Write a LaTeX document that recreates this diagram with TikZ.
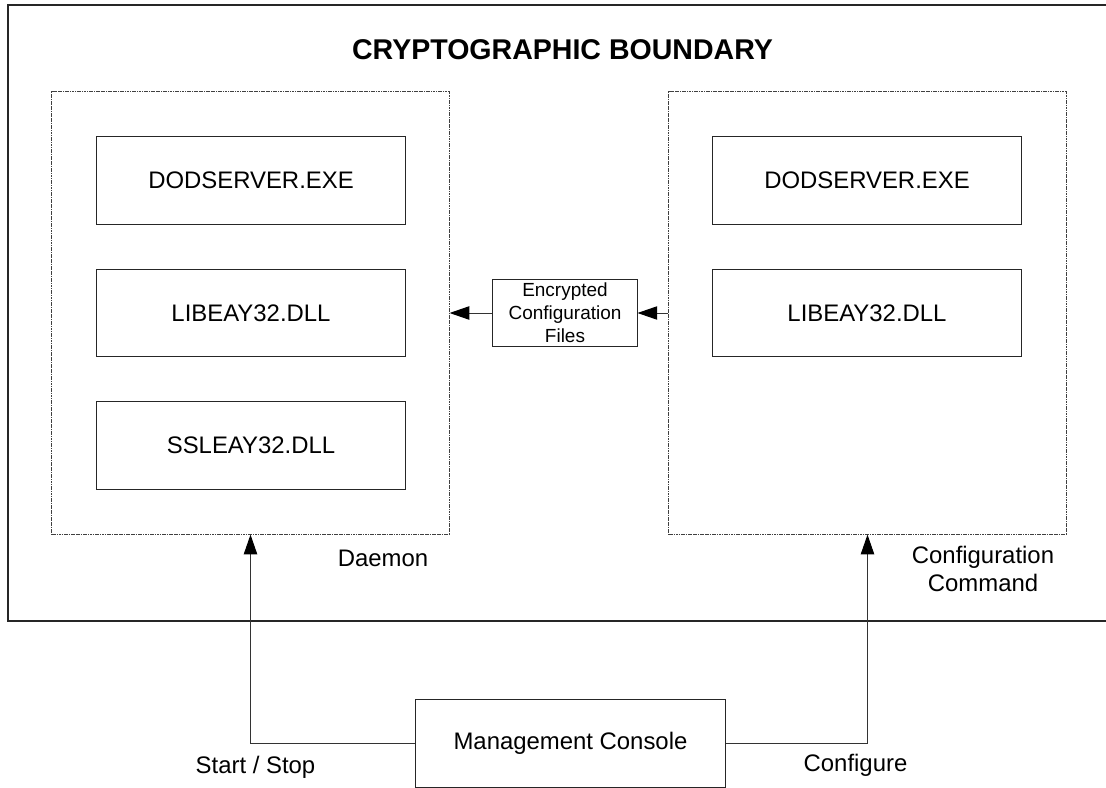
\documentclass[tikz,border=0pt]{standalone}
\usepackage{fontspec}
\setmainfont{Liberation Sans}
\usetikzlibrary{arrows.meta}
\tikzset{
	module/.style={draw=black!85, line width=0.7pt, minimum width=7.7cm, minimum height=2.175cm, inner sep=0pt, font=\fontsize{17}{20}\selectfont},
	zone/.style={draw=black!75, line width=0.75pt, dash pattern=on 1.2pt off 0.5pt, minimum width=9.925cm, minimum height=11.05cm, inner sep=0pt},
	cfgfile/.style={draw=black!85, line width=0.7pt, minimum width=3.6cm, minimum height=1.65cm, inner sep=0pt, align=center, font=\fontsize{13.5}{16.3}\selectfont},
	tag/.style={font=\fontsize{17}{20.5}\selectfont, align=center, inner sep=0pt},
	flow/.style={draw=black!80, line width=0.7pt, -{Triangle[length=14pt,width=9.5pt,color=black]}},
}

\begin{document}
\begin{tikzpicture}[x=0.025cm, y=-0.025cm]
			%%%%% START %%%%%
			\useasboundingbox (0,0) rectangle (1106,788);
			
			% boundary, runs off the right edge
			\draw[line width=0.8pt, black!85] (8,5) rectangle (1120,621);
			\node[font=\fontsize{20.3}{24}\selectfont\bfseries, anchor=base] (title) at (562.5,60) {CRYPTOGRAPHIC BOUNDARY};
			
			\node[zone] (daemon) at (250.5,313) {};
			\node[zone] (cfgcmd) at (867.5,313) {};
			
			\node[module] (dodl) at (251,180.5) {DODSERVER.EXE};
			\node[module] (libl) at (251,313) {LIBEAY32.DLL};
			\node[module] (ssll) at (251,445.5) {SSLEAY32.DLL};
			
			\node[module] (dodr) at (867,180.5) {DODSERVER.EXE};
			\node[module] (libr) at (867,313) {LIBEAY32.DLL};
			
			\node[cfgfile] (crypt) at (565,313) {Encrypted\\Configuration\\Files};
			
			\node[tag, anchor=base] (daemonlbl) at (383,566) {Daemon};
			\node[tag] (cfgcmdlbl) at (983,569) {Configuration\\Command};
			
			\node[module, minimum width=7.725cm, minimum height=2.2cm] (console) at (570.5,743) {Management Console};
			
			\draw[flow] (crypt.west) -- (daemon.east);
			\draw[flow] (cfgcmd.west) -- (crypt.east);
			\draw[flow] (console.west) -| (daemon.south);
			\draw[flow] (console.east) -| (cfgcmd.south);
			
			\node[tag, anchor=base] (startlbl) at (255.5,773) {Start / Stop};
			\node[tag, anchor=base] (cfglbl) at (855.5,771) {Configure};
			
			%%%%% END %%%%%
		\end{tikzpicture}
\end{document}
